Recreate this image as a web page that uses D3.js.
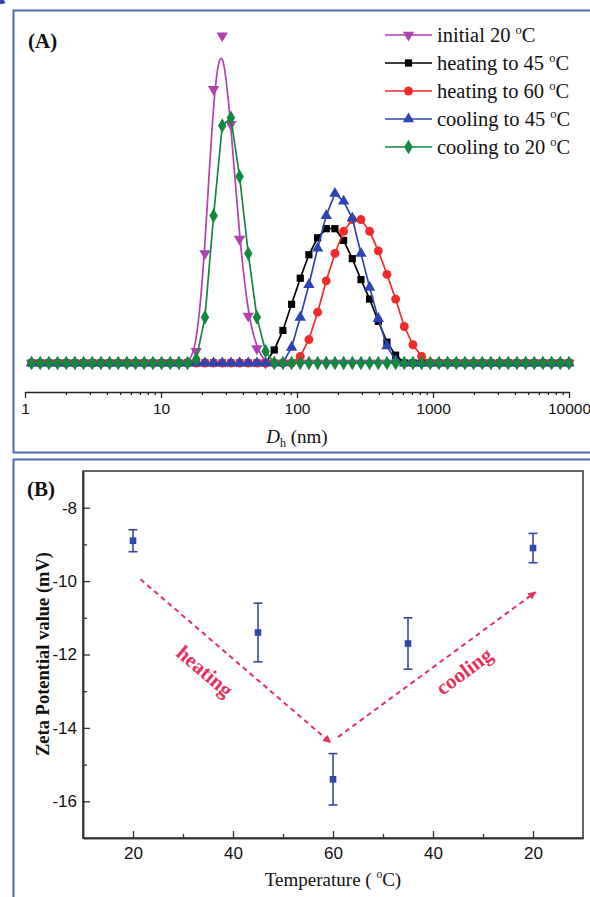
<!DOCTYPE html>
<html><head><meta charset="utf-8">
<script src="https://cdn.jsdelivr.net/npm/d3@7"></script>
<style>html,body{margin:0;padding:0;background:#fff;} svg{display:block;}</style>
</head><body>
<svg id="chart" width="590" height="897"></svg>
<script>
// ---------- DATA: panel A (size distribution, intensity %) ----------
const sizes = [1.117,1.294,1.499,1.735,2.010,2.327,2.695,3.121,3.615,4.186,4.847,5.614,6.501,7.529,8.719,10.10,11.69,13.54,15.68,18.17,21.04,24.36,28.21,32.66,37.82,43.80,50.72,58.74,68.03,78.77,91.22,105.7,122.3,141.8,164.1,190.1,220.2,255.0,295.3,342.0,396.1,458.6,531.0,614.9,712.1,824.6,954.9,1106,1280,1483,1717,1988,2303,2666,3088,3576,4140,4795,5553,6431,7447,8625,10000];
const initial20 = [0,0,0,0,0,0,0,0,0,0,0,0,0,0,0,0,0,0,0, 0.9,8.4,21.0,25.1,18.3,9.5,3.6,1.1, 0,0,0,0,0,0,0,0,0,0,0,0,0,0,0,0,0,0,0,0,0,0,0,0,0,0,0,0,0,0,0,0,0,0,0,0];
const heating45 = [0,0,0,0,0,0,0,0,0,0,0,0,0,0,0,0,0,0,0,0,0,0,0,0,0,0,0,0, 1.0,2.5,4.5,6.5,8.3,9.6,10.3,10.3,9.4,8.0,6.4,4.9,3.2,1.6,0.6, 0,0,0,0,0,0,0,0,0,0,0,0,0,0,0,0,0,0,0,0,0];
const heating60 = [0,0,0,0,0,0,0,0,0,0,0,0,0,0,0,0,0,0,0,0,0,0,0,0,0,0,0,0,0,0,0, 0.5,1.8,3.9,6.3,8.4,10.1,11.0,11.0,10.1,8.6,6.8,4.9,2.8,1.4,0.5, 0,0,0,0,0,0,0,0,0,0,0,0,0,0,0,0,0];
const cooling45 = [0,0,0,0,0,0,0,0,0,0,0,0,0,0,0,0,0,0,0,0,0,0,0,0,0,0,0,0,0,0, 1.2,3.5,6.0,8.8,11.3,13.0,12.4,11.1,8.4,5.8,3.4,1.3,0.2, 0,0,0,0,0,0,0,0,0,0,0,0,0,0,0,0,0,0,0,0,0];
const cooling20 = [0,0,0,0,0,0,0,0,0,0,0,0,0,0,0,0,0,0,0, 0.3,3.5,11.3,18.2,18.8,14.3,8.4,3.5,0.9, 0,0,0,0,0,0,0,0,0,0,0,0,0,0,0,0,0,0,0,0,0,0,0,0,0,0,0,0,0,0,0,0,0,0,0];
const seriesLabels = ["initial 20 ", "heating to 45 ", "heating to 60 ", "cooling to 45 ", "cooling to 20 "];
const xTicksA = [1, 10, 100, 1000, 10000];

// ---------- DATA: panel B (zeta potential) ----------
const temps = [20, 45, 60, 45, 20];
const phases = ["heating", "heating", "heating", "cooling", "cooling"];
const zeta = [-8.9, -11.4, -15.4, -11.7, -9.1];
const zetaErr = [0.3, 0.8, 0.7, 0.7, 0.4];
const yTicksB = [-16, -14, -12, -10, -8];

// ---------- STYLE ----------
const serif = "'Liberation Serif','Times New Roman',serif";
const sans = "'Liberation Sans',Arial,sans-serif";
const colors = ["#b042b0", "#000000", "#f22a2a", "#2e44b2", "#11893f"];
const symbols = [d3.symbolTriangle, d3.symbolSquare, d3.symbolCircle, d3.symbolTriangle, d3.symbolDiamond];
const symSizes = [56, 52, 62, 56, 62];
const rotations = [180, 0, 0, 0, 0];
const seriesData = [initial20, heating45, heating60, cooling45, cooling20];
const curves = [d3.curveBasis, d3.curveLinear, d3.curveLinear, d3.curveLinear, d3.curveLinear];

const svg = d3.select("#chart");

// panel borders
svg.append("rect").attr("x", 13.5).attr("y", 10.5).attr("width", 620).attr("height", 442)
  .attr("fill", "none").attr("stroke", "#4a68ad").attr("stroke-width", 2);
svg.append("rect").attr("x", 13.5).attr("y", 459.5).attr("width", 620).attr("height", 480)
  .attr("fill", "none").attr("stroke", "#4a68ad").attr("stroke-width", 2);

// ================= PANEL A =================
const xA = d3.scaleLog().domain([1, 10000]).range([25, 569]);
const yA = d3.scaleLinear().domain([0, 25]).range([363, 37]);

const gA = svg.append("g");
seriesData.forEach((vals, si) => {
  const line = d3.line().x((d, i) => xA(sizes[i])).y(d => yA(d)).curve(curves[si]);
  gA.append("path").datum(vals).attr("d", line).attr("fill", "none")
    .attr("stroke", colors[si]).attr("stroke-width", 1.7);
  const sym = d3.symbol().type(symbols[si]).size(symSizes[si]);
  gA.append("g").selectAll("path").data(vals).join("path")
    .attr("d", sym)
    .attr("transform", (d, i) => `translate(${xA(sizes[i])},${yA(d)}) rotate(${rotations[si]})`)
    .attr("fill", colors[si]);
});

// x axis A
const axA = svg.append("g").attr("transform", "translate(0,392)");
axA.call(d3.axisBottom(xA).tickValues(xTicksA).tickFormat(d => String(d))
  .tickSizeInner(6).tickSizeOuter(0).tickPadding(5));
const minorA = [];
[1, 10, 100, 1000].forEach(dec => [2,3,4,5,6,7,8,9].forEach(m => minorA.push(dec * m)));
const axAm = svg.append("g").attr("transform", "translate(0,392)");
axAm.call(d3.axisBottom(xA).tickValues(minorA).tickFormat("").tickSizeInner(3).tickSizeOuter(0));
axAm.select(".domain").remove();
[axA, axAm].forEach(g => {
  g.selectAll("line").attr("stroke", "#222").attr("stroke-width", 1.3);
  g.select(".domain").attr("stroke", "#222").attr("stroke-width", 1.5);
  g.selectAll("text").attr("font-family", sans).attr("font-size", 15.5).attr("fill", "#111");
});

// x label A
const xlabA = svg.append("text").attr("x", 297).attr("y", 443).attr("text-anchor", "middle")
  .attr("font-family", serif).attr("font-size", 19).attr("fill", "#111");
xlabA.append("tspan").attr("font-style", "italic").text("D");
xlabA.append("tspan").attr("font-size", 12).attr("dy", 4).text("h");
xlabA.append("tspan").attr("dy", -4).text(" (nm)");

// panel label
svg.append("text").attr("x", 28).attr("y", 48).attr("font-family", serif)
  .attr("font-weight", "bold").attr("font-size", 21).attr("fill", "#111").text("(A)");

// legend
seriesLabels.forEach((lab, si) => {
  const yy = 35 + 28 * si;
  const g = svg.append("g");
  g.append("line").attr("x1", 385).attr("x2", 432).attr("y1", yy).attr("y2", yy)
    .attr("stroke", colors[si]).attr("stroke-width", 1.7);
  g.append("path").attr("d", d3.symbol().type(symbols[si]).size(symSizes[si])())
    .attr("transform", `translate(408.5,${yy}) rotate(${rotations[si]})`).attr("fill", colors[si]);
  const t = g.append("text").attr("x", 437).attr("y", yy + 6.5).attr("font-family", serif)
    .attr("font-size", 20.5).attr("fill", "#111");
  t.append("tspan").text(lab);
  t.append("tspan").attr("font-size", 12.5).attr("dy", -8).text("o");
  t.append("tspan").attr("dy", 8).text("C");
});

// ================= PANEL B =================
const xB = d3.scaleLinear().domain([10, 110]).range([83, 583]);
const yB = d3.scaleLinear().domain([-17, -7]).range([838, 471]);
const pos = (t, ph) => ph === "heating" ? t : 120 - t;

svg.append("rect").attr("x", xB(10)).attr("y", yB(-7)).attr("width", xB(110) - xB(10))
  .attr("height", yB(-17) - yB(-7)).attr("fill", "none").attr("stroke", "#333").attr("stroke-width", 1.5);

const axBx = svg.append("g").attr("transform", `translate(0,${yB(-17)})`);
axBx.call(d3.axisBottom(xB).tickValues([20, 40, 60, 80, 100]).tickFormat(u => String(u <= 60 ? u : 120 - u))
  .tickSizeInner(-7).tickSizeOuter(0).tickPadding(9));
const axBxm = svg.append("g").attr("transform", `translate(0,${yB(-17)})`);
axBxm.call(d3.axisBottom(xB).tickValues([30, 50, 70, 90]).tickFormat("").tickSizeInner(-4).tickSizeOuter(0));
const axBy = svg.append("g").attr("transform", `translate(${xB(10)},0)`);
axBy.call(d3.axisLeft(yB).tickValues(yTicksB).tickFormat(d => String(d))
  .tickSizeInner(-7).tickSizeOuter(0).tickPadding(6));
const axBym = svg.append("g").attr("transform", `translate(${xB(10)},0)`);
axBym.call(d3.axisLeft(yB).tickValues([-15, -13, -11, -9]).tickFormat("").tickSizeInner(-4).tickSizeOuter(0));
[axBx, axBxm, axBy, axBym].forEach(g => {
  g.select(".domain").attr("stroke", "#333").attr("stroke-width", 1.5);
  g.selectAll("line").attr("stroke", "#333").attr("stroke-width", 1.3);
  g.selectAll("text").attr("font-family", sans).attr("font-size", 17).attr("fill", "#111");
});

// axis titles B
const xlabB = svg.append("text").attr("x", 333).attr("y", 886).attr("text-anchor", "middle")
  .attr("font-family", serif).attr("font-size", 19).attr("fill", "#111");
xlabB.append("tspan").text("Temperature ( ");
xlabB.append("tspan").attr("font-size", 11.5).attr("dy", -8).text("o");
xlabB.append("tspan").attr("dy", 8).text("C)");
svg.append("text").attr("transform", "translate(49,654) rotate(-90)").attr("text-anchor", "middle")
  .attr("font-family", serif).attr("font-weight", "bold").attr("font-size", 18.5).attr("fill", "#111")
  .text("Zeta Potential value (mV)");
svg.append("text").attr("x", 27).attr("y", 496).attr("font-family", serif)
  .attr("font-weight", "bold").attr("font-size", 21).attr("fill", "#111").text("(B)");

// arrows + annotations
const red = "#e6305c";
svg.append("defs").append("marker").attr("id", "ah").attr("viewBox", "0 0 10 10")
  .attr("refX", 9).attr("refY", 5).attr("markerWidth", 9).attr("markerHeight", 8)
  .attr("markerUnits", "userSpaceOnUse").attr("orient", "auto")
  .append("path").attr("d", "M0,0 L10,5 L0,10 Z").attr("fill", red);
const arrows = [
  {from: [21.5, -9.95], to: [59.5, -14.4]},
  {from: [61, -14.25], to: [100.5, -10.3]}
];
arrows.forEach(a => {
  svg.append("line").attr("x1", xB(a.from[0])).attr("y1", yB(a.from[1]))
    .attr("x2", xB(a.to[0])).attr("y2", yB(a.to[1]))
    .attr("stroke", red).attr("stroke-width", 2).attr("stroke-dasharray", "5,4")
    .attr("marker-end", "url(#ah)");
});
const notes = [
  {text: "heating", at: [34.4, -12.45], angle: 40.5},
  {text: "cooling", at: [86.2, -12.45], angle: -36.5}
];
notes.forEach(n => {
  svg.append("text").attr("transform", `translate(${xB(n.at[0])},${yB(n.at[1])}) rotate(${n.angle})`)
    .attr("text-anchor", "middle").attr("dy", "0.35em").attr("font-family", serif)
    .attr("font-weight", "bold").attr("font-size", 21).attr("fill", red).text(n.text);
});

// data points with error bars
const gB = svg.append("g");
temps.forEach((t, i) => {
  const cx = xB(pos(t, phases[i]));
  const y1 = yB(zeta[i] + zetaErr[i]), y2 = yB(zeta[i] - zetaErr[i]);
  gB.append("line").attr("x1", cx).attr("x2", cx).attr("y1", y1).attr("y2", y2)
    .attr("stroke", "#3a48a0").attr("stroke-width", 1.6);
  [y1, y2].forEach(yy => gB.append("line").attr("x1", cx - 4.5).attr("x2", cx + 4.5)
    .attr("y1", yy).attr("y2", yy).attr("stroke", "#3a48a0").attr("stroke-width", 1.6));
  gB.append("path").attr("d", d3.symbol().type(d3.symbolSquare).size(44)())
    .attr("transform", `translate(${cx},${yB(zeta[i])})`).attr("fill", "#3447ab");
});
</script>
</body></html>
